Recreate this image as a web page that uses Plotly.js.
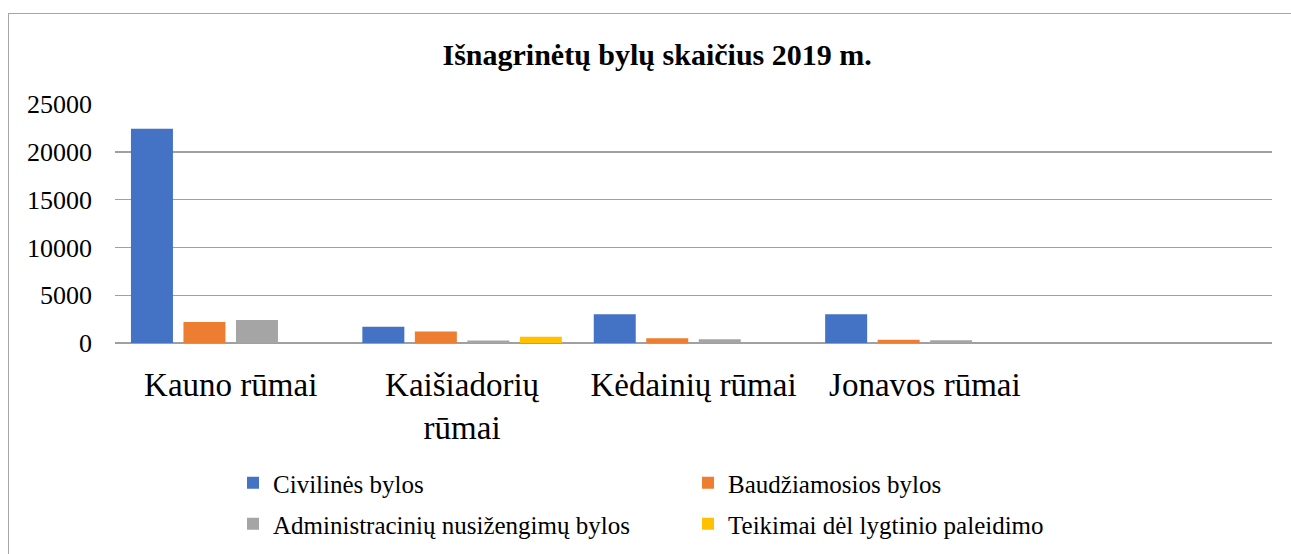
<!DOCTYPE html>
<html>
<head>
<meta charset="utf-8">
<script src="https://cdn.plot.ly/plotly-3.0.1.min.js"></script>
<style>
  html, body { margin: 0; padding: 0; background: #fff; overflow: hidden; }
  #wrap { position: relative; width: 1291px; height: 554px; }
  #frame { position: absolute; left: 8px; top: 13px; width: 1400px; height: 700px;
           border: 1.5px solid #a6a6a6; box-sizing: border-box; z-index: 0; }
  #chart { position: absolute; left: 0; top: 0; width: 1291px; height: 554px; z-index: 1; }
</style>
</head>
<body>
<div id="wrap">
  <div id="frame"></div>
  <div id="chart"></div>
</div>
<script>
const categories = ["Kauno rūmai", "Kaišiadorių<br>rūmai", "Kėdainių rūmai", "Jonavos rūmai"];
const seriesNames = ["Civilinės bylos", "Baudžiamosios bylos", "Administracinių nusižengimų bylos", "Teikimai dėl lygtinio paleidimo"];
const civilines = [22400, 1700, 3000, 3000];
const baudziamosios = [2200, 1200, 500, 350];
const administraciniu = [2400, 250, 400, 300];
const teikimai = [0, 650, 0, 0];
const colors = ["#4472C4", "#ED7D31", "#A5A5A5", "#FFC000"];
const yTicks = [0, 5000, 10000, 15000, 20000, 25000];

const values = [civilines, baudziamosios, administraciniu, teikimai];
const legendIds = ["legend", "legend", "legend2", "legend2"];
const traces = values.map((v, i) => ({
  type: "bar",
  name: seriesNames[i],
  x: categories,
  y: v,
  marker: { color: colors[i] },
  legend: legendIds[i],
  hoverinfo: "x+y+name"
}));

const font = "Liberation Serif";
const legendBase = {
  orientation: "h",
  x: 0.102, xanchor: "left",
  yanchor: "middle",
  font: { family: font, size: 25, color: "#000" },
  entrywidth: 410, entrywidthmode: "pixels",
  itemwidth: 30,
  traceorder: "normal",
  bgcolor: "rgba(0,0,0,0)"
};
const layout = {
  width: 1291, height: 554,
  paper_bgcolor: "rgba(0,0,0,0)",
  plot_bgcolor: "rgba(0,0,0,0)",
  margin: { l: 115, r: 19, t: 104, b: 211, pad: 0, autoexpand: false },
  font: { family: font, color: "#000" },
  title: {
    text: "<b>Išnagrinėtų bylų skaičius 2019 m.</b>",
    font: { family: font, size: 30, color: "#000" },
    x: 0.509, xanchor: "center", xref: "container",
    y: 0.902, yanchor: "middle", yref: "container"
  },
  barmode: "group",
  bargap: 0.0925,
  bargroupgap: 0.2,
  xaxis: {
    type: "category",
    range: [-0.5, 4.5],
    showgrid: false,
    showline: false,
    zeroline: false,
    ticks: "",
    tickfont: { family: font, size: 33, color: "#000" },
    ticklabelstandoff: 19
  },
  yaxis: {
    range: [0, 25000],
    tickvals: yTicks,
    ticktext: yTicks.map(String),
    showgrid: true,
    gridcolor: "#a0a0a0",
    gridwidth: 1.4,
    zeroline: true,
    zerolinecolor: "#a0a0a0",
    zerolinewidth: 1.4,
    showline: false,
    ticks: "",
    tickfont: { family: font, size: 26, color: "#000" },
    ticklabelstandoff: 22
  },
  showlegend: true,
  legend: Object.assign({}, legendBase, { y: (343 - 483) / 239 }),
  legend2: Object.assign({}, legendBase, { y: (343 - 524) / 239 })
};

Plotly.newPlot("chart", traces, layout, { displayModeBar: false, staticPlot: true });
</script>
</body>
</html>
